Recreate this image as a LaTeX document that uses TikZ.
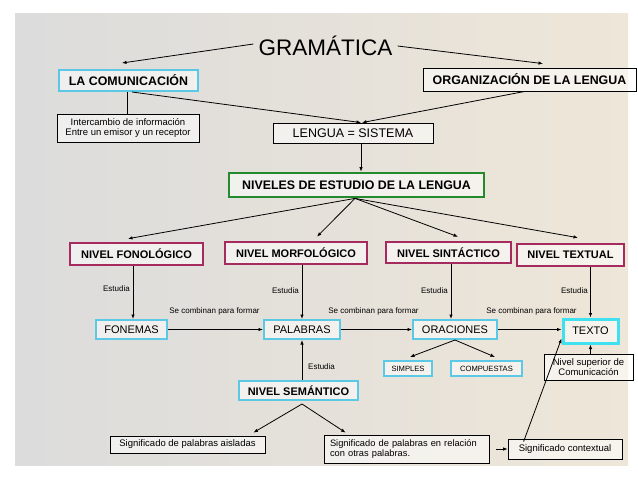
\documentclass[tikz,border=0pt]{standalone}
\usepackage{fontspec}
\setmainfont{Liberation Sans}
\usetikzlibrary{arrows.meta,calc}
\definecolor{cyanb}{HTML}{5BC8E6}
\definecolor{cyanbr}{HTML}{3FE0F0}
\definecolor{crim}{HTML}{A52A5E}
\definecolor{grn}{HTML}{238B2E}
\definecolor{bgl}{HTML}{DCDCDC}
\definecolor{bgr}{HTML}{EEE6D8}
\newcommand\fntbig{\fontsize{22.5}{26}\selectfont}
\newcommand\fntmain{\fontsize{12.4}{14}\selectfont\bfseries}
\newcommand\fntniv{\fontsize{11}{13}\selectfont\bfseries}
\newcommand\fntreg{\fontsize{11}{13}\selectfont}
\newcommand\fntlen{\fontsize{12.5}{14}\selectfont}
\newcommand\fntsm{\fontsize{9.5}{11}\selectfont}
\newcommand\fntrel{\fontsize{9.3}{11}\selectfont}
\newcommand\fnttiny{\fontsize{7.6}{9}\selectfont}
\newcommand\fntlbl{\fontsize{8}{9}\selectfont}
\begin{document}
\begin{tikzpicture}[x=1pt,y=-1pt,
  box/.style={draw=black, inner sep=0pt, fill=white, fill opacity=0.55, text opacity=1, line width=0.8pt},
  cbox/.style={box, draw=cyanb, line width=2pt},
  tbox/.style={box, draw=cyanbr, line width=3pt},
  rbox/.style={box, draw=crim, line width=2.6pt},
  gbox/.style={box, draw=grn, line width=2.8pt},
  conn/.style={line width=0.8pt, -{Latex[length=4.5pt,width=3.5pt]}},
  plain/.style={line width=0.8pt},
  lbl/.style={font=\fntlbl, inner sep=0pt}]
\useasboundingbox (0,0) rectangle (638,479);
\fill[white] (0,0) rectangle (638,479);
\shade[left color=bgl, right color=bgr] (15,13) rectangle (628,465);

% title
\node[font=\fntbig, inner xsep=5pt, inner ysep=0pt] (gram) at (325.5,46) {GRAMÁTICA};

% top boxes
\node[cbox, font=\fntmain, minimum width=139, minimum height=21] (lacom) at (128.5,80.5) {LA COMUNICACIÓN};
\node[box, font=\fntmain, minimum width=213, minimum height=23] (org) at (529.5,79.5) {ORGANIZACIÓN DE LA LENGUA};
\node[box, font=\fntsm, align=center, minimum width=142, minimum height=28] (inter) at (128,128) {Intercambio de información\\[-1pt]Entre un emisor y un receptor};
\node[box, font=\fntlen, minimum width=160, minimum height=20] (lengua) at (353,133) {LENGUA = SISTEMA};
\node[gbox, font=\fntmain, minimum width=255, minimum height=24] (niveles) at (356.5,185) {NIVELES DE ESTUDIO DE LA LENGUA};

% levels
\node[rbox, font=\fntniv, minimum width=133, minimum height=22] (fono) at (136.5,254) {NIVEL FONOLÓGICO};
\node[rbox, font=\fntniv, minimum width=142, minimum height=22] (morf) at (296,253) {NIVEL MORFOLÓGICO};
\node[rbox, font=\fntniv, minimum width=125, minimum height=21] (sint) at (448.5,252.5) {NIVEL SINTÁCTICO};
\node[rbox, font=\fntniv, minimum width=107, minimum height=22] (textual) at (570.5,255) {NIVEL TEXTUAL};

% units
\node[cbox, font=\fntreg, minimum width=71, minimum height=19] (fonemas) at (131.5,329.5) {FONEMAS};
\node[cbox, font=\fntreg, minimum width=76, minimum height=19] (palabras) at (302,329.5) {PALABRAS};
\node[cbox, font=\fntreg, minimum width=84, minimum height=19] (oraciones) at (455,329.5) {ORACIONES};
\node[tbox, font=\fntreg, minimum width=55, minimum height=24] (texto) at (590.5,331) {TEXTO};

\node[cbox, font=\fnttiny, minimum width=48, minimum height=15] (simples) at (408,368.5) {SIMPLES};
\node[cbox, font=\fnttiny, minimum width=71, minimum height=15] (compuestas) at (486.5,368.5) {COMPUESTAS};
\node[box, font=\fntsm, align=center, minimum width=89, minimum height=26] (nsup) at (588.5,367) {Nivel superior de\\[-1pt]Comunicación};

\node[cbox, font=\fntniv, minimum width=119, minimum height=19] (sem) at (298.5,390.5) {NIVEL SEMÁNTICO};

\node[box, font=\fntsm, minimum width=155, minimum height=17] (aisl) at (187.5,444.5) {Significado de palabras aisladas};
\node[box, font=\fntrel, align=left, text width=153, inner xsep=6pt, minimum height=28] (rel) at (406.5,449) {Significado de palabras en relación\\[-1pt]con otras palabras.};
\node[box, font=\fntsm, minimum width=114, minimum height=20] (ctx) at (565,449) {Significado contextual};

% connectors top
\draw[conn] ([yshift=2]gram.west) -- ([xshift=-6.5,yshift=6]lacom.north);
\draw[conn] (gram.east) -- ([xshift=13.5,yshift=4]org.north);
\draw[plain] ([xshift=-1.5]lacom.south) -- ([xshift=-1.5]lacom.south |- inter.north);
\draw[conn] ([xshift=3.5]lacom.south) -- ([xshift=8]lengua.north);
\draw[conn] ([xshift=-4.5]org.south) -- ([xshift=9]lengua.north);
\draw[conn] ([xshift=8]lengua.south) -- ([xshift=8]lengua.south |- niveles.north);

% niveles to levels
\draw[conn] ([xshift=-1.5]niveles.south) -- ([xshift=-8.5,yshift=3]fono.north);
\draw[conn] ([xshift=-1.5]niveles.south) -- ([xshift=21,yshift=4]morf.north);
\draw[conn] ([xshift=-1.5]niveles.south) -- ([xshift=9.5,yshift=4]sint.north);
\draw[conn] ([xshift=-1.5]niveles.south) -- ([xshift=7.5,yshift=5]textual.north);

% Estudia arrows
\draw[conn] ([xshift=1.5]fonemas.north |- fono.south) -- ([xshift=1.5]fonemas.north);
\draw[conn] (palabras.north |- morf.south) -- (palabras.north);
\draw[conn] ([xshift=-4]oraciones.north |- sint.south) -- ([xshift=-4]oraciones.north);
\draw[conn] (texto.north |- textual.south) -- (texto.north);
\node[lbl, anchor=east] (e1) at (130,289) {Estudia};
\node[lbl, anchor=east] (e2) at (299,291) {Estudia};
\node[lbl, anchor=east] (e3) at (448,291) {Estudia};
\node[lbl, anchor=east] (e4) at (588,291) {Estudia};

% combine arrows
\draw[conn] (fonemas.east) -- (palabras.west);
\draw[conn] (palabras.east) -- (oraciones.west);
\draw[conn] (oraciones.east) -- (oraciones.east -| texto.west);
\node[lbl] (c1) at (214.5,311) {Se combinan para formar};
\node[lbl] (c2) at (373.5,311) {Se combinan para formar};
\node[lbl] (c3) at (531.5,311) {Se combinan para formar};

% oraciones split
\draw[conn] (oraciones.south) -- ([xshift=2,yshift=3]simples.north);
\draw[conn] (oraciones.south) -- ([xshift=8.5,yshift=3]compuestas.north);

% texto support
\draw[conn] (nsup.north -| texto.south) -- (texto.south);

% semantico
\draw[conn] (sem.north -| palabras.south) -- (palabras.south);
\node[lbl, anchor=west] (e5) at (308,367) {Estudia};
\draw[conn] ([xshift=3.5,yshift=-3]sem.south) -- ([xshift=-12,yshift=3]aisl.north east);
\draw[conn] ([xshift=3.5,yshift=-3]sem.south) -- ([xshift=22,yshift=2]rel.north west);

% bottom chain
\draw[conn] ([xshift=7]rel.east) -- (ctx.west);
\draw[conn] ([xshift=16,yshift=-3]ctx.north west) -- ([yshift=6]texto.south west);
\end{tikzpicture}
\end{document}
